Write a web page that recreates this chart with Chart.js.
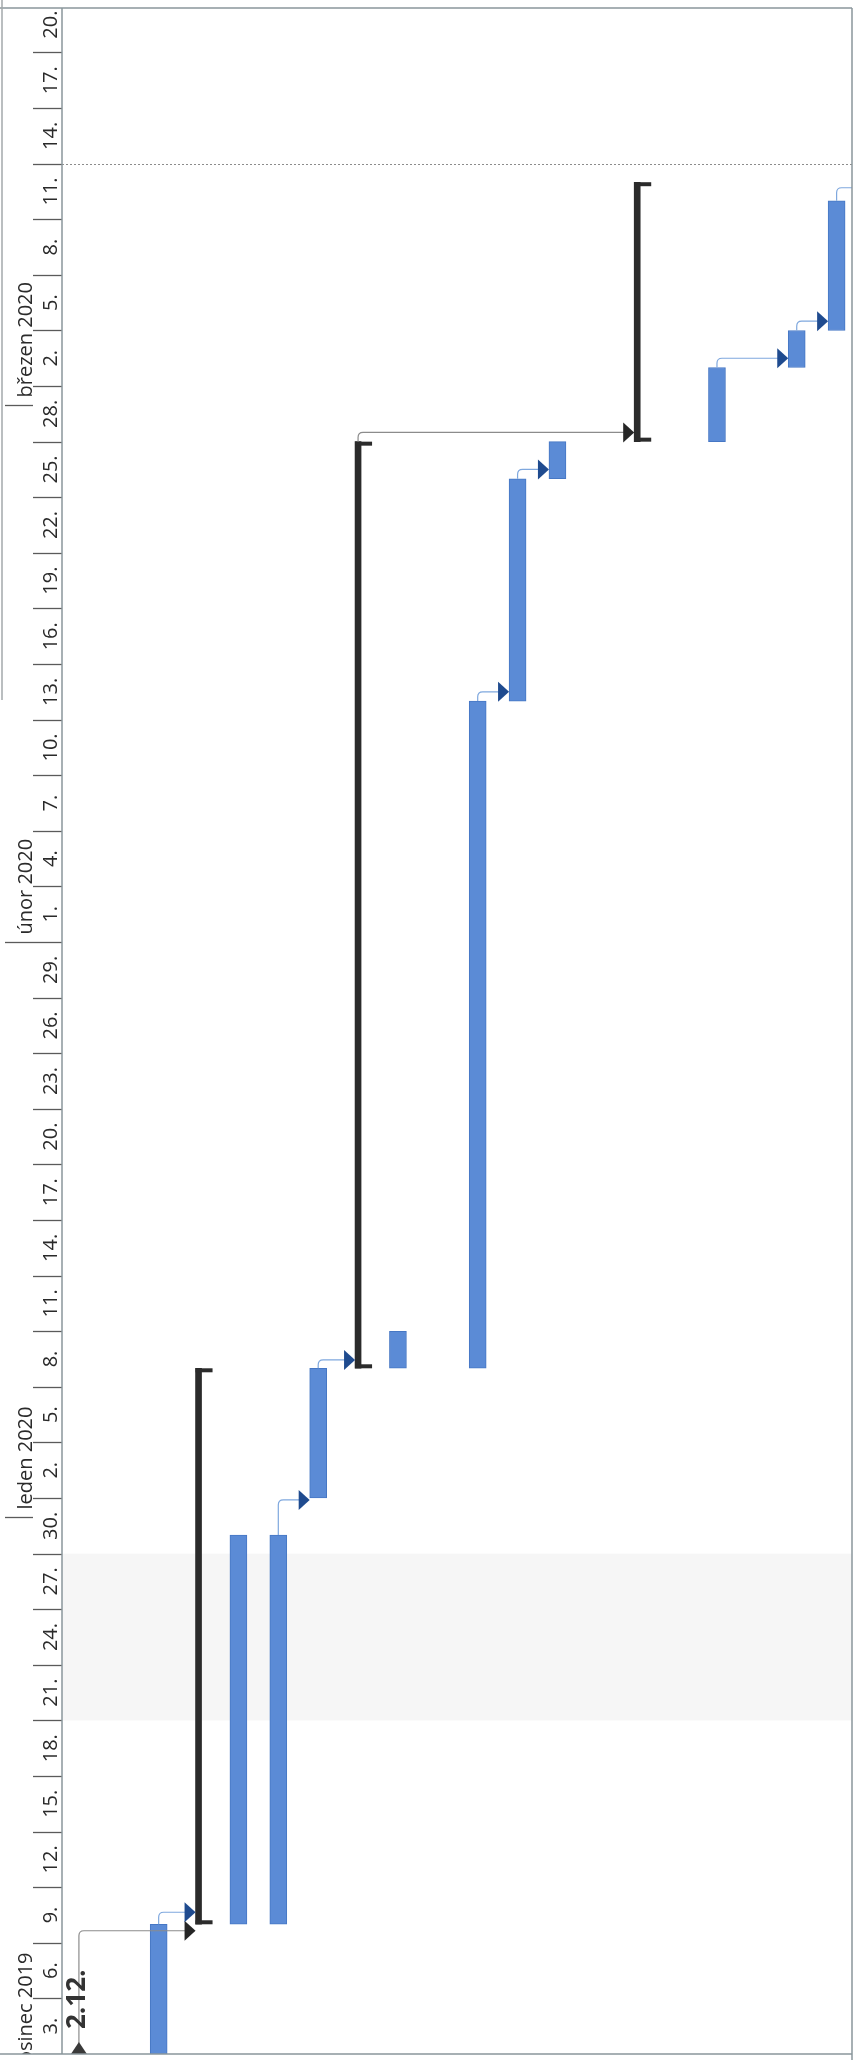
<!DOCTYPE html>
<html lang="cs">
<head>
<meta charset="utf-8">
<title>Harmonogram prosinec 2019 – březen 2020</title>
<script src="https://cdn.jsdelivr.net/npm/chart.js@4.4.1/dist/chart.umd.min.js"></script>
<style>
  html, body { margin: 0; padding: 0; background: #fff; }
  canvas { display: block; }
</style>
</head>
<body>
<canvas id="gantt" width="858" height="2067"></canvas>
<script>
// Časová osa (den 0 = začátek 3. 12. 2019)
const AXIS_START = '2019-12-03';
const AXIS_DAYS = 110.4;
const DAY_STEP = 3;
const monthStarts = ['2019-12-01', '2020-01-01', '2020-02-01', '2020-03-01'];
const monthLabels = ['prosinec 2019', 'leden 2020', 'únor 2020', 'březen 2020'];
const holidayStart = ['2019-12-21'];
const holidayEnd = ['2019-12-29'];
const markerDates = ['2020-03-14'];

// Úkoly (řádky diagramu)
const taskRows = [2, 4, 5, 6, 8, 10, 11, 12, 16, 18, 19];
const taskStart = ['2019-12-02', '2019-12-10', '2019-12-10', '2020-01-02', '2020-01-09', '2020-01-09',
  '2020-02-14', '2020-02-26', '2020-02-28', '2020-03-03', '2020-03-05'];
const taskEnd = ['2019-12-09', '2019-12-30', '2019-12-30', '2020-01-08', '2020-01-10', '2020-02-13',
  '2020-02-25', '2020-02-27', '2020-03-02', '2020-03-04', '2020-03-11'];

// Souhrnné úkoly
const summaryRows = [3, 7, 14];
const summaryStart = ['2019-12-10', '2020-01-09', '2020-02-28'];
const summaryEnd = ['2020-01-08', '2020-02-27', '2020-03-12'];

// Milníky
const milestoneRows = [0];
const milestoneDates = ['2019-12-02'];
const milestoneLabels = ['2.12.'];

// Vazby (z řádku -> do řádku, null = pokračuje mimo stránku); posun šipky ve dnech
const linkFrom = [0, 2, 5, 6, 7, 10, 11, 16, 18, 19];
const linkTo = [3, 3, 6, 7, 14, 11, 12, 18, 19, null];
const linkShift = [-0.35, 0.65, -0.1, 0.45, 0.5, 0.5, 0.5, 0.5, 0.5, 0.7];

const COLORS = {
  bar: '#5b8bd6', barBorder: '#4677c4',
  summary: '#2b2b2b',
  milestone: '#3a3a3a',
  linkBlue: '#7fa8de', arrowBlue: '#1f4b8f',
  linkBlack: '#8c8c8c', arrowBlack: '#262626',
  text: '#2a2a2a', tick: '#5a5a5a', frame: '#8a979c', holiday: '#f6f6f6'
};
const FONT = "'Open Sans', 'DejaVu Sans', sans-serif";

// Utilitaires
function dayOf(s) {
  const [y, m, d] = s.split('-').map(Number);
  const [y0, m0, d0] = AXIS_START.split('-').map(Number);
  return (Date.UTC(y, m - 1, d) - Date.UTC(y0, m0 - 1, d0)) / 86400000;
}

function dateOfDay(n) {
  const [y0, m0, d0] = AXIS_START.split('-').map(Number);
  return new Date(Date.UTC(y0, m0 - 1, d0 + n));
}

// Index des lignes pour les vazby
const rowInfo = {};
taskRows.forEach((r, i) => { rowInfo[r] = { type: 'task', start: dayOf(taskStart[i]), end: dayOf(taskEnd[i]) + 1 }; });
summaryRows.forEach((r, i) => { rowInfo[r] = { type: 'summary', start: dayOf(summaryStart[i]), end: dayOf(summaryEnd[i]) + 1 }; });
milestoneRows.forEach((r, i) => { rowInfo[r] = { type: 'milestone', start: dayOf(milestoneDates[i]) + 1, end: dayOf(milestoneDates[i]) + 1 }; });

function drawRotatedText(ctx, text, x, y, align, font) {
  ctx.save();
  ctx.translate(x, y);
  ctx.rotate(-Math.PI / 2);
  ctx.font = font;
  ctx.textAlign = align;
  ctx.textBaseline = 'alphabetic';
  ctx.fillText(text, 0, 0);
  ctx.restore();
}

function drawTimescale(chart) {
  const { ctx, chartArea: a, scales: { y } } = chart;
  ctx.save();
  ctx.beginPath();
  ctx.rect(0, a.top, a.left, a.bottom - a.top);
  ctx.clip();
  ctx.strokeStyle = COLORS.tick;
  ctx.fillStyle = COLORS.text;
  ctx.lineWidth = 1.3;

  // Dny
  for (let d = 0; d <= AXIS_DAYS; d += DAY_STEP) {
    const py = Math.round(y.getPixelForValue(d)) + 0.5;
    ctx.beginPath();
    ctx.moveTo(33, py);
    ctx.lineTo(a.left, py);
    ctx.stroke();
    const label = dateOfDay(d).getUTCDate() + '.';
    drawRotatedText(ctx, label, 57, y.getPixelForValue(d + DAY_STEP / 2), 'center', `20px ${FONT}`);
  }

  // Měsíce
  monthStarts.forEach((s, i) => {
    const py = Math.round(y.getPixelForValue(dayOf(s))) + 0.5;
    ctx.beginPath();
    ctx.moveTo(5, py);
    ctx.lineTo(33, py);
    ctx.stroke();
    drawRotatedText(ctx, monthLabels[i], 32, py - 8, 'left', `20px ${FONT}`);
  });
  ctx.restore();
}

function drawArrow(ctx, tipX, tipY, color) {
  ctx.fillStyle = color;
  ctx.beginPath();
  ctx.moveTo(tipX, tipY);
  ctx.lineTo(tipX - 11, tipY - 10);
  ctx.lineTo(tipX - 11, tipY + 10);
  ctx.closePath();
  ctx.fill();
}

function drawLinks(chart) {
  const { ctx, chartArea: a, scales: { x, y } } = chart;
  ctx.save();
  ctx.beginPath();
  ctx.rect(a.left, a.top, a.right - a.left, a.bottom - a.top);
  ctx.clip();
  linkFrom.forEach((from, i) => {
    const src = rowInfo[from];
    const dst = linkTo[i] === null ? null : rowInfo[linkTo[i]];
    const black = src.type !== 'task';
    const x0 = x.getPixelForValue(from);
    const y0 = src.type === 'milestone' ? y.getPixelForValue(src.end) - 11 : y.getPixelForValue(src.end);
    const y1 = y.getPixelForValue((dst ? dst.start : src.end) + linkShift[i]);
    let x1;
    if (!dst) x1 = a.right + 2;
    else x1 = x.getPixelForValue(linkTo[i]) - (dst.type === 'summary' ? 3 : 8.5);
    const r = Math.min(5, Math.abs(y0 - y1));

    ctx.strokeStyle = black ? COLORS.linkBlack : COLORS.linkBlue;
    ctx.lineWidth = 1.2;
    ctx.beginPath();
    ctx.moveTo(x0, y0);
    ctx.lineTo(x0, y1 + r);
    ctx.quadraticCurveTo(x0, y1, x0 + r, y1);
    ctx.lineTo(dst ? x1 - 10 : x1, y1);
    ctx.stroke();
    if (dst) drawArrow(ctx, x1, y1, black ? COLORS.arrowBlack : COLORS.arrowBlue);
  });
  ctx.restore();
}

function drawSummaryCaps(chart) {
  const { ctx, scales: { x, y } } = chart;
  ctx.save();
  ctx.fillStyle = COLORS.summary;
  summaryRows.forEach((r, i) => {
    const xc = x.getPixelForValue(r);
    const yb = y.getPixelForValue(dayOf(summaryStart[i]));
    const yt = y.getPixelForValue(dayOf(summaryEnd[i]) + 1);
    ctx.fillRect(xc - 3, yt, 17, 4);
    ctx.fillRect(xc - 3, yb - 4, 17, 4);
  });
  ctx.restore();
}

function drawMilestones(chart) {
  const { ctx, chartArea: a, scales: { x, y } } = chart;
  milestoneRows.forEach((r, i) => {
    const xc = x.getPixelForValue(r);
    const yc = y.getPixelForValue(dayOf(milestoneDates[i]) + 1);
    ctx.save();
    ctx.beginPath();
    ctx.rect(a.left, a.top, a.right - a.left, a.bottom - a.top);
    ctx.clip();
    ctx.fillStyle = COLORS.milestone;
    ctx.beginPath();
    ctx.moveTo(xc, yc - 12);
    ctx.lineTo(xc + 8, yc);
    ctx.lineTo(xc, yc + 12);
    ctx.lineTo(xc - 8, yc);
    ctx.closePath();
    ctx.fill();
    ctx.restore();
    ctx.save();
    ctx.fillStyle = '#333';
    drawRotatedText(ctx, milestoneLabels[i], xc + 6, yc - 25, 'left', `bold 26px ${FONT}`);
    ctx.restore();
  });
}

function drawFrame(chart) {
  const { ctx, chartArea: a } = chart;
  ctx.save();
  ctx.strokeStyle = COLORS.frame;
  ctx.lineWidth = 1.5;
  ctx.beginPath();
  ctx.moveTo(0, a.top); ctx.lineTo(a.right, a.top);
  ctx.moveTo(a.right, a.top); ctx.lineTo(a.right, a.bottom + 6);
  ctx.moveTo(0, a.bottom); ctx.lineTo(a.right, a.bottom);
  ctx.moveTo(a.left, a.top); ctx.lineTo(a.left, a.bottom);
  ctx.stroke();
  ctx.strokeStyle = '#a3a9ab';
  ctx.beginPath();
  ctx.moveTo(2, 0); ctx.lineTo(2, 700);
  ctx.stroke();
  ctx.restore();
}

const ganttPlugin = {
  id: 'gantt',
  beforeDatasetsDraw(chart) {
    const { ctx, chartArea: a, scales: { y } } = chart;
    ctx.save();
    ctx.fillStyle = COLORS.holiday;
    holidayStart.forEach((s, i) => {
      const top = y.getPixelForValue(dayOf(holidayEnd[i]) + 1);
      const bottom = y.getPixelForValue(dayOf(s));
      ctx.fillRect(a.left, top, a.right - a.left, bottom - top);
    });
    ctx.strokeStyle = '#8c8c8c';
    ctx.lineWidth = 1;
    ctx.setLineDash([2, 2]);
    markerDates.forEach(s => {
      const py = Math.round(y.getPixelForValue(dayOf(s))) + 0.5;
      ctx.beginPath();
      ctx.moveTo(a.left, py);
      ctx.lineTo(a.right, py);
      ctx.stroke();
    });
    ctx.restore();
    drawTimescale(chart);
  },
  afterDatasetsDraw(chart) {
    drawSummaryCaps(chart);
    drawLinks(chart);
    drawMilestones(chart);
    drawFrame(chart);
  }
};

new Chart(document.getElementById('gantt'), {
  type: 'bar',
  data: {
    datasets: [
      {
        label: 'Úkoly',
        data: taskRows.map((r, i) => ({ x: r, y: [dayOf(taskStart[i]), dayOf(taskEnd[i]) + 1] })),
        backgroundColor: COLORS.bar,
        borderColor: COLORS.barBorder,
        borderWidth: 1,
        borderSkipped: false,
        barThickness: 17,
        grouped: false
      },
      {
        label: 'Souhrnné úkoly',
        data: summaryRows.map((r, i) => ({ x: r, y: [dayOf(summaryStart[i]), dayOf(summaryEnd[i]) + 1] })),
        backgroundColor: COLORS.summary,
        borderWidth: 0,
        barThickness: 6,
        grouped: false
      }
    ]
  },
  options: {
    responsive: false,
    animation: false,
    layout: { padding: { left: 62, right: 6, top: 8, bottom: 13 } },
    plugins: { legend: { display: false }, tooltip: { enabled: false } },
    scales: {
      x: { type: 'linear', offset: false, min: -0.424, max: 19.386, display: false },
      y: { type: 'linear', min: 0, max: AXIS_DAYS, display: false }
    }
  },
  plugins: [ganttPlugin]
});
</script>
</body>
</html>
